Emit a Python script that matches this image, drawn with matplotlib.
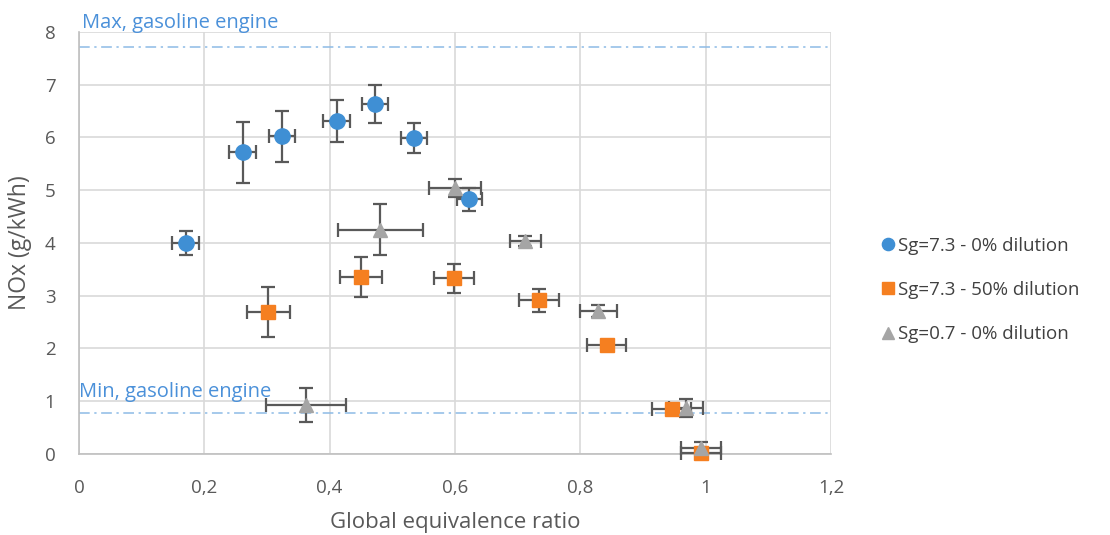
import numpy as np
import matplotlib.pyplot as plt

plt.rcParams['font.family'] = ['Open Sans', 'DejaVu Sans']

# Sg=7.3 - 0% dilution
blue_x = [0.170, 0.261, 0.324, 0.411, 0.472, 0.535, 0.623]
blue_y = [4.00, 5.72, 6.02, 6.31, 6.63, 5.99, 4.83]
blue_xerr = [0.021, 0.021, 0.021, 0.021, 0.021, 0.021, 0.020]
blue_yerr = [0.22, 0.58, 0.49, 0.40, 0.36, 0.29, 0.22]

# Sg=7.3 - 50% dilution
orange_x = [0.302, 0.450, 0.599, 0.734, 0.842, 0.946, 0.993]
orange_y = [2.69, 3.35, 3.33, 2.91, 2.07, 0.85, 0.01]
orange_xerr = [0.034, 0.033, 0.032, 0.032, 0.031, 0.031, 0.032]
orange_yerr = [0.48, 0.38, 0.28, 0.21, 0.08, 0.05, 0.05]

# Sg=0.7 - 0% dilution
gray_x = [0.362, 0.481, 0.600, 0.712, 0.829, 0.969, 0.993]
gray_y = [0.93, 4.25, 5.04, 4.04, 2.71, 0.87, 0.12]
gray_xerr = [0.064, 0.068, 0.042, 0.025, 0.030, 0.027, 0.032]
gray_yerr = [0.32, 0.48, 0.17, 0.09, 0.11, 0.17, 0.10]

max_gasoline = 7.72
min_gasoline = 0.77

fig = plt.figure(figsize=(11.1, 5.35), dpi=100)
ax = fig.add_axes([0.0712, 0.1514, 0.6774, 0.7888])

ax.axhline(max_gasoline, color='#8dbbe6', lw=1.1, ls='-.', dashes=(7, 3, 1.5, 3), zorder=2)
ax.axhline(min_gasoline, color='#8dbbe6', lw=1.1, ls='-.', dashes=(7, 3, 1.5, 3), zorder=2)

ebar = dict(ecolor='#595959', elinewidth=1.6, capsize=5, capthick=1.6, ls='none',
            zorder=3, clip_on=False)
ax.errorbar(blue_x, blue_y, xerr=blue_xerr, yerr=blue_yerr, marker='o', ms=11,
            mfc='#3f8fd4', mec='#3f8fd4', label='Sg=7.3 - 0% dilution', **ebar)
ax.errorbar(orange_x, orange_y, xerr=orange_xerr, yerr=orange_yerr, marker='s', ms=10,
            mfc='#f57f20', mec='#f57f20', label='Sg=7.3 - 50% dilution', **ebar)
ax.errorbar(gray_x, gray_y, xerr=gray_xerr, yerr=gray_yerr, marker='^', ms=10,
            mfc='#a5a5a5', mec='#a5a5a5', label='Sg=0.7 - 0% dilution', **ebar)

ax.set_xlim(0, 1.2)
ax.set_ylim(0, 8)
xt = np.arange(0, 1.21, 0.2)
ax.set_xticks(xt)
ax.set_xticklabels([('%g' % v).replace('.', ',') for v in xt])
ax.set_yticks(range(0, 9))
ax.grid(True, color='#d9d9d9', lw=1.2)
ax.set_axisbelow(True)
for s in ['top', 'right']:
    ax.spines[s].set_visible(False)
for s in ['left', 'bottom']:
    ax.spines[s].set_color('#bfbfbf')
    ax.spines[s].set_linewidth(1.2)
ax.tick_params(length=0, labelsize=13.5, labelcolor='#595959')
ax.tick_params(axis='x', pad=18)
ax.tick_params(axis='y', pad=17)

ax.set_xlabel('Global equivalence ratio', fontsize=16, color='#595959', labelpad=11)
ax.set_ylabel('NOx (g/kWh)', fontsize=16.5, color='#595959', labelpad=9)

ax.text(0.005, 7.98, 'Max, gasoline engine', color='#4a90d9', fontsize=14.5,
        va='bottom', ha='left', clip_on=False)
ax.text(0.0, 0.98, 'Min, gasoline engine', color='#4a90d9', fontsize=14.5,
        va='bottom', ha='left')

handles, labels = ax.get_legend_handles_labels()
handles = [h[0] for h in handles]
leg = fig.legend(handles, labels, loc='center left', bbox_to_anchor=(0.776, 0.458),
                 frameon=False, fontsize=13.5, handletextpad=0.05, labelspacing=1.4,
                 handlelength=1.0, markerscale=0.8)
for t in leg.get_texts():
    t.set_color('#404040')

fig.savefig('out.png', dpi=100)
